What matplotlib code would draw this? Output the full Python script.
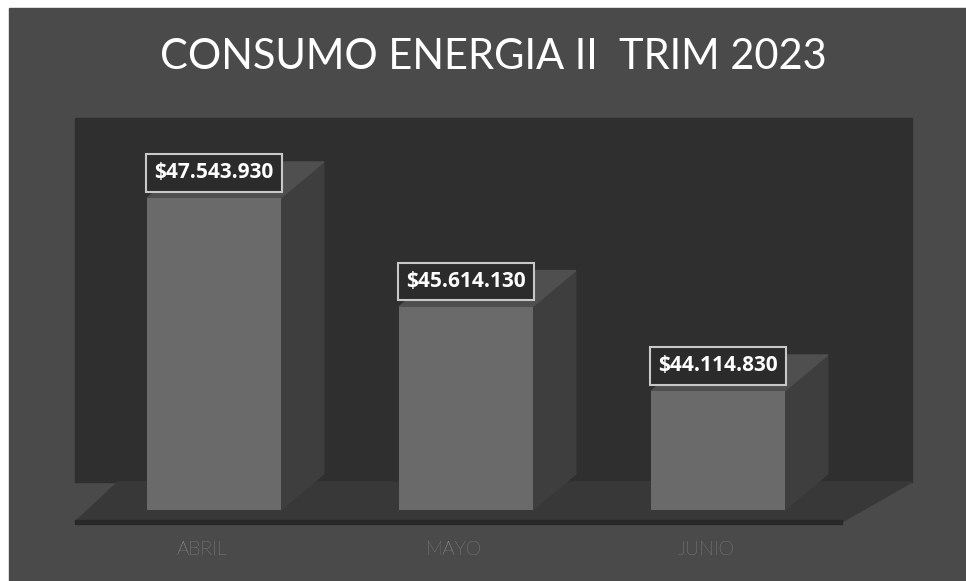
import matplotlib.pyplot as plt
from matplotlib.patches import Rectangle, Polygon
import matplotlib.transforms as mtransforms

meses = ['ABRIL', 'MAYO', 'JUNIO']
consumo = [47543930, 45614130, 44114830]
etiquetas = ['$47.543.930', '$45.614.130', '$44.114.830']
titulo = 'CONSUMO ENERGIA II  TRIM 2023'

W, H = 966, 581
fig = plt.figure(figsize=(W / 100, H / 100), dpi=100, facecolor='white')


def px(x, y):
    # image pixel (from top-left) -> figure fraction
    return x / W, 1 - y / H


def fig_rect(x0, y0, x1, y1, color, z=-10):
    a, b = px(x0, y1)
    fig.patches.append(Rectangle((a, b), (x1 - x0) / W, (y1 - y0) / H,
                                 transform=fig.transFigure, color=color, zorder=z))


def fig_poly(pts, color, z=-9):
    fig.patches.append(Polygon([px(x, y) for x, y in pts], closed=True,
                               transform=fig.transFigure, color=color, zorder=z))


# fondo general, pared trasera y piso
fig_rect(9, 8, W, H, '#4a4a4a')
fig_rect(75, 118, 912, 482, '#2f2f2f', z=-9)
fig_poly([(75, 522), (842, 522), (912, 482), (118, 482)], '#383838', z=-8)
fig_rect(75, 520, 842, 524, '#282828', z=-8)

fig.text(0.511, px(0, 57)[1], titulo, ha='center', va='center', color='white',
         fontsize=30, family='Lato')

# ejes en el plano frontal de las barras
left, right, bottom, top = 88, 844, 510, 116
ax = fig.add_axes([left / W, 1 - bottom / H, (right - left) / W, (bottom - top) / H])
ax.set_xlim(-0.5, 2.5)
ax.set_ylim(42e6, 49e6)
ax.axis('off')
ax.patch.set_alpha(0)

ancho = 0.53
pos = list(range(len(meses)))
ax.bar(pos, [v - 42e6 for v in consumo], bottom=42e6, width=ancho,
       color='#6a6a6a', zorder=3)

# profundidad 3D en pixeles -> unidades de datos
dx = 43 * (2.5 + 0.5) / (right - left)
dy = 36 * (49e6 - 42e6) / (bottom - top)
for i, v in zip(pos, consumo):
    x0, x1 = i - ancho / 2, i + ancho / 2
    ax.add_patch(Polygon([(x1, 42e6), (x1 + dx, 42e6 + dy), (x1 + dx, v + dy), (x1, v)],
                         closed=True, color='#3e3e3e', zorder=2, clip_on=False))
    ax.add_patch(Polygon([(x0, v), (x0 + dx, v + dy), (x1 + dx, v + dy), (x1, v)],
                         closed=True, color='#4f4f4f', zorder=2, clip_on=False))

off_lbl = mtransforms.offset_copy(ax.transData, fig=fig, x=0, y=25, units='dots')
for i, v, t in zip(pos, consumo, etiquetas):
    ax.text(i, v, t, transform=off_lbl, ha='center', va='center', color='white',
            fontsize=15, fontweight='bold', family='Open Sans', zorder=5,
            bbox=dict(boxstyle='square,pad=0.4', facecolor='#2b2b2b',
                      edgecolor='#c8c8c8', linewidth=1.5))

off_cat = mtransforms.offset_copy(ax.transData, fig=fig, x=-12, y=-40, units='dots')
for i, m in zip(pos, meses):
    ax.text(i, 42e6, m, transform=off_cat, ha='center', va='center', color='#b4b4b4',
            fontsize=14, fontweight='light', family='Lato')

fig.savefig('out.png', dpi=100, facecolor=fig.get_facecolor())
